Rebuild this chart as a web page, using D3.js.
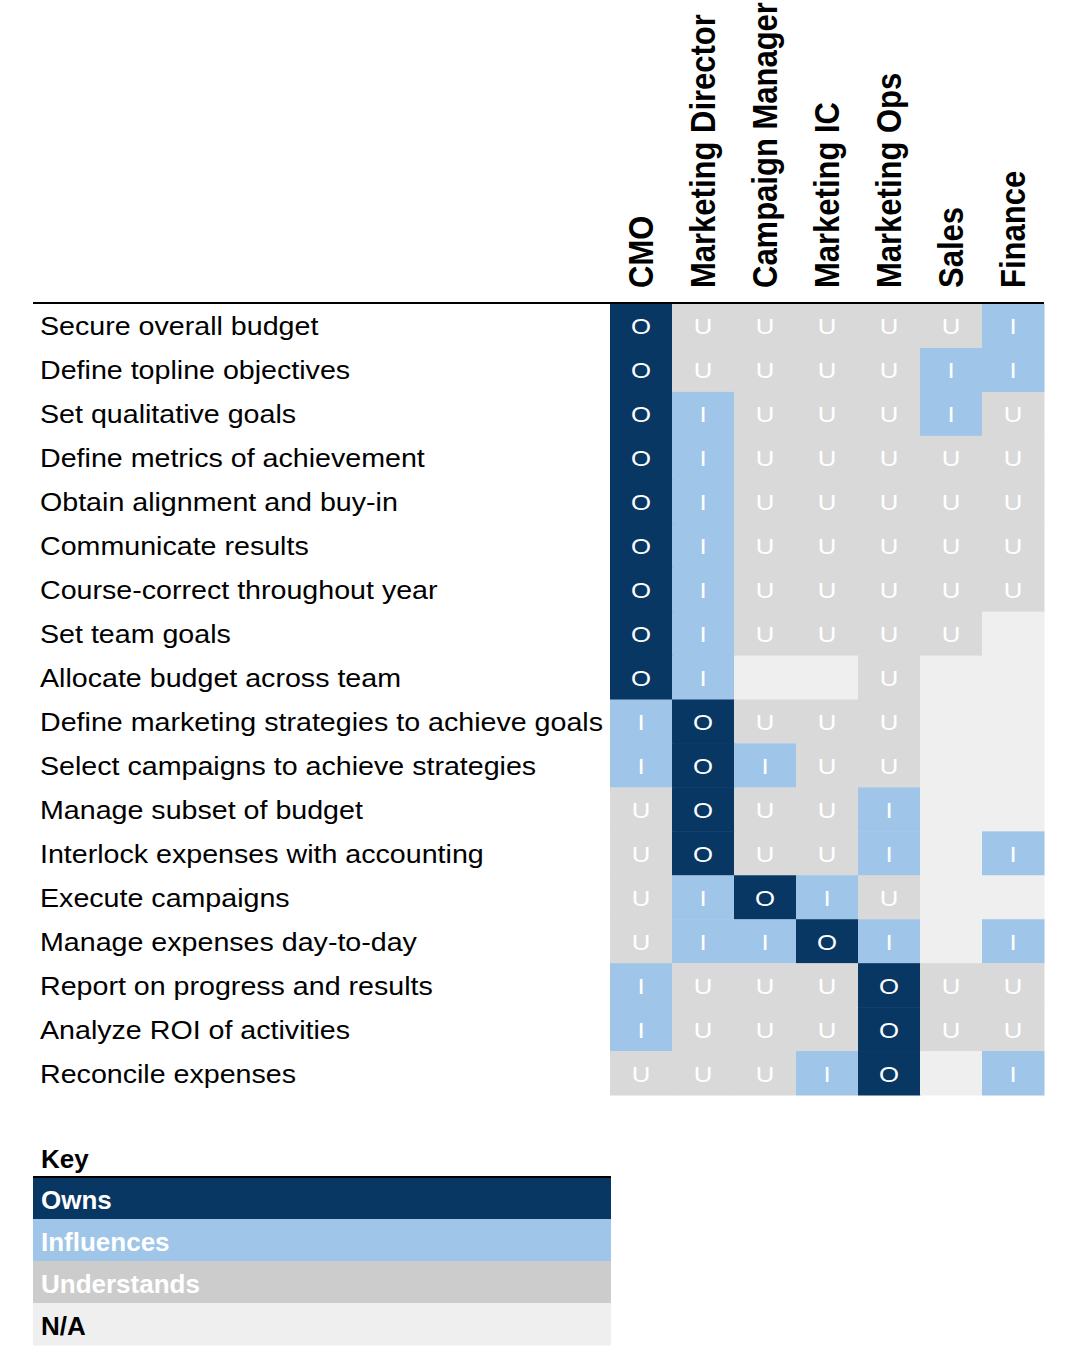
<!DOCTYPE html>
<html>
<head>
<meta charset="utf-8">
<script src="https://cdn.jsdelivr.net/npm/d3@7"></script>
<style>
  html, body { margin: 0; padding: 0; background: #ffffff; }
  svg { display: block; font-family: "Liberation Sans", Arial, Helvetica, sans-serif; }
</style>
</head>
<body>
<svg id="chart" width="1088" height="1362"></svg>
<script>
// ---- data ----
const roles = ["CMO", "Marketing Director", "Campaign Manager", "Marketing IC", "Marketing Ops", "Sales", "Finance"];
const tasks = [
  "Secure overall budget",
  "Define topline objectives",
  "Set qualitative goals",
  "Define metrics of achievement",
  "Obtain alignment and buy-in",
  "Communicate results",
  "Course-correct throughout year",
  "Set team goals",
  "Allocate budget across team",
  "Define marketing strategies to achieve goals",
  "Select campaigns to achieve strategies",
  "Manage subset of budget",
  "Interlock expenses with accounting",
  "Execute campaigns",
  "Manage expenses day-to-day",
  "Report on progress and results",
  "Analyze ROI of activities",
  "Reconcile expenses"
];
// O = owns, I = influences, U = understands, N = not applicable
const assignments = [
  "OUUUUUI",
  "OUUUUII",
  "OIUUUIU",
  "OIUUUUU",
  "OIUUUUU",
  "OIUUUUU",
  "OIUUUUU",
  "OIUUUUN",
  "OINNUNN",
  "IOUUUNN",
  "IOIUUNN",
  "UOUUINN",
  "UOUUINI",
  "UIOIUNN",
  "UIIOINI",
  "IUUUOUU",
  "IUUUOUU",
  "UUUIONI"
];
const levels = ["O", "I", "U", "N"];
const levelNames = ["Owns", "Influences", "Understands", "N/A"];

// ---- styles ----
const cellFill = d3.scaleOrdinal().domain(levels).range(["#083763", "#9fc5e8", "#d9d9d9", "#efefef"]);
const keyFill = d3.scaleOrdinal().domain(levels).range(["#083763", "#9fc5e8", "#cccccc", "#efefef"]);
const keyText = d3.scaleOrdinal().domain(levels).range(["#ffffff", "#ffffff", "#ffffff", "#000000"]);
const SX = 1.12;      // horizontal glyph stretch seen in the reference
const SX_ROW = 1.145;
const SX_KEY = 1.04;

const svg = d3.select("#chart");

const x = d3.scaleBand().domain(roles).range([610, 1044]);
const y = d3.scaleBand().domain(tasks).range([304, 1095]);

const cells = [];
tasks.forEach((t, i) => {
  roles.forEach((r, j) => {
    cells.push({ task: t, role: r, v: assignments[i][j] });
  });
});

// cells
svg.append("g").selectAll("rect").data(cells).join("rect")
  .attr("x", d => x(d.role))
  .attr("y", d => y(d.task))
  .attr("width", x.bandwidth() + 0.5)
  .attr("height", y.bandwidth() + 0.5)
  .attr("fill", d => cellFill(d.v));

svg.append("g").selectAll("text").data(cells.filter(d => d.v !== "N")).join("text")
  .attr("transform", d => `translate(${x(d.role) + x.bandwidth() / 2},${y(d.task) + y.bandwidth() / 2 + 8.5}) scale(${SX},1)`)
  .attr("text-anchor", "middle")
  .attr("font-size", 23)
  .attr("fill", "#ffffff")
  .text(d => d.v);

// row labels
svg.append("g").selectAll("text").data(tasks).join("text")
  .attr("transform", d => `translate(40,${y(d) + y.bandwidth() / 2 + 9.5}) scale(${SX_ROW},1)`)
  .attr("font-size", 25)
  .attr("fill", "#000000")
  .text(d => d);

// column headers
svg.append("g").selectAll("text").data(roles).join("text")
  .attr("transform", d => `translate(${x(d) + x.bandwidth() / 2 + 12},288) scale(${SX},1) rotate(-90)`)
  .attr("font-size", 31)
  .attr("font-weight", "bold")
  .attr("fill", "#000000")
  .text(d => d);

// header rule
svg.append("line")
  .attr("x1", 33).attr("x2", 1044)
  .attr("y1", 303).attr("y2", 303)
  .attr("stroke", "#000000").attr("stroke-width", 2);

// ---- key ----
const ky = d3.scaleBand().domain(levels).range([1177, 1345]);
svg.append("text")
  .attr("transform", `translate(41,1168) scale(${SX_KEY},1)`)
  .attr("font-size", 25)
  .attr("font-weight", "bold")
  .attr("fill", "#000000")
  .text("Key");

const key = svg.append("g").selectAll("g").data(levels).join("g");
key.append("rect")
  .attr("x", 33).attr("width", 578)
  .attr("y", d => ky(d))
  .attr("height", ky.bandwidth() + 0.5)
  .attr("fill", d => keyFill(d));
key.append("text")
  .attr("transform", d => `translate(41,${ky(d) + ky.bandwidth() / 2 + 10.5}) scale(${SX_KEY},1)`)
  .attr("font-size", 25)
  .attr("font-weight", "bold")
  .attr("fill", d => keyText(d))
  .text((d, i) => levelNames[i]);

svg.append("line")
  .attr("x1", 33).attr("x2", 611)
  .attr("y1", 1177).attr("y2", 1177)
  .attr("stroke", "#000000").attr("stroke-width", 2);
</script>
</body>
</html>
